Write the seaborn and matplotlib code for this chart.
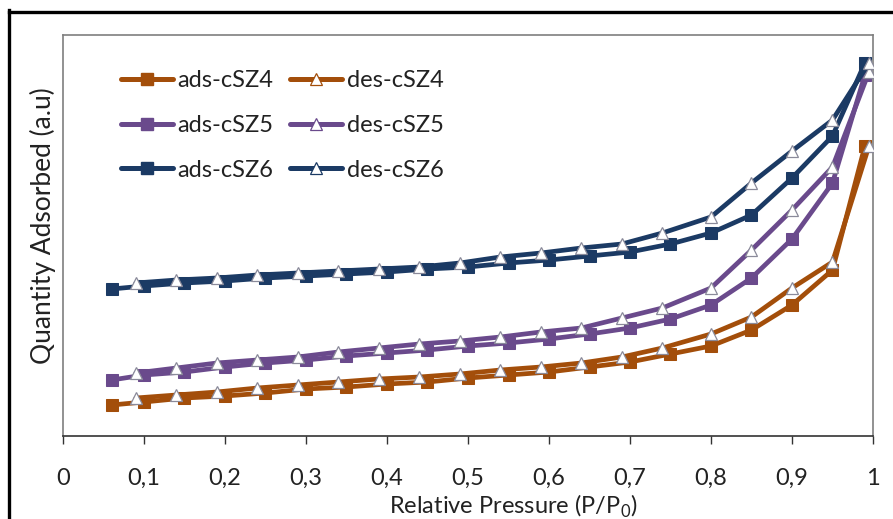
import matplotlib
matplotlib.use("Agg")
import matplotlib.pyplot as plt
import seaborn as sns
from matplotlib.lines import Line2D

sns.set_theme(style="white")
plt.rcParams['font.family'] = ['Lato', 'DejaVu Sans']

# ---------------- data ----------------
ads_x = [0.06, 0.1, 0.15, 0.2, 0.25, 0.3, 0.35, 0.4, 0.45, 0.5, 0.55, 0.6,
         0.65, 0.7, 0.75, 0.8, 0.85, 0.9, 0.95, 0.99]
des_x = [0.09, 0.14, 0.19, 0.24, 0.29, 0.34, 0.39, 0.44, 0.49, 0.54, 0.59,
         0.64, 0.69, 0.74, 0.8, 0.85, 0.9, 0.95, 0.995]

ads_cSZ4 = [31, 34, 38, 40, 43, 47, 49, 52, 54, 58, 61, 64, 69, 74, 82, 90, 106, 131, 166, 290]
des_cSZ4 = [38, 41, 44, 48, 51, 54, 57, 59, 62, 66, 69, 73, 79, 88, 102, 119, 148, 174, 290]

ads_cSZ5 = [56, 61, 64, 69, 73, 76, 80, 83, 86, 90, 93, 97, 102, 108, 117, 131, 158, 197, 253, 361]
des_cSZ5 = [63, 68, 73, 76, 79, 84, 88, 92, 95, 99, 104, 108, 118, 128, 148, 186, 226, 269, 364]

ads_cSZ6 = [147, 150, 153, 155, 158, 160, 162, 164, 167, 169, 173, 176, 180, 184, 192, 203, 221, 258, 300, 373]
des_cSZ6 = [153, 156, 158, 161, 163, 165, 167, 169, 173, 179, 183, 188, 192, 203, 219, 253, 285, 316, 373]

x_ticks = [0, 0.1, 0.2, 0.3, 0.4, 0.5, 0.6, 0.7, 0.8, 0.9, 1.0]
x_tick_labels = ["0", "0,1", "0,2", "0,3", "0,4", "0,5", "0,6", "0,7", "0,8", "0,9", "1"]

colors = {"cSZ4": "#A34E0A", "cSZ5": "#6A4A8C", "cSZ6": "#1B3A64"}

# ---------------- figure ----------------
W, H = 893, 519
fig = plt.figure(figsize=(W / 100, H / 100), dpi=100)
fig.patch.set_facecolor("white")
ax = fig.add_axes([63 / W, (H - 436) / H, (873 - 63) / W, (436 - 35) / H])

series = [
    ("cSZ4", ads_cSZ4, des_cSZ4),
    ("cSZ5", ads_cSZ5, des_cSZ5),
    ("cSZ6", ads_cSZ6, des_cSZ6),
]

ads_handles, des_handles = [], []
for name, ads, des in series:
    c = colors[name]
    sns.lineplot(x=ads_x, y=ads, ax=ax, color=c, linewidth=3.4, marker="s",
                 markersize=8.5, markeredgecolor=c, markerfacecolor=c, zorder=3)
    sns.lineplot(x=des_x, y=des, ax=ax, color=c, linewidth=3.4, marker="^",
                 markersize=8.5, markeredgecolor="#8a8a9a", markeredgewidth=0.9,
                 markerfacecolor="white", zorder=4)
    ads_handles.append(Line2D([], [], color=c, lw=3.6, marker="s", markersize=8,
                              markerfacecolor=c, markeredgecolor=c))
    des_handles.append(Line2D([], [], color=c, lw=3.6, marker="^", markersize=8,
                              markerfacecolor="white", markeredgecolor=c,
                              markeredgewidth=0.9))

labels = ["ads-cSZ4", "ads-cSZ5", "ads-cSZ6", "des-cSZ4", "des-cSZ5", "des-cSZ6"]
leg = ax.legend(ads_handles + des_handles, labels, ncol=2, loc="upper left",
                bbox_to_anchor=(0.045, 0.965), frameon=False, fontsize=17,
                handlelength=2.2, handletextpad=0.2, columnspacing=0.7,
                labelspacing=1.0, numpoints=1)
for t in leg.get_texts():
    t.set_color("#222222")

ax.set_xlim(0, 1)
ax.set_ylim(0, 401)
ax.set_xticks(x_ticks)
ax.set_xticklabels(x_tick_labels)
ax.set_yticks([])
ax.tick_params(axis="x", direction="out", length=6, width=1.0, color="#333333",
               labelsize=17, pad=17, labelcolor="#222222", bottom=True)

for side in ["left", "top", "right"]:
    ax.spines[side].set_color("#7f7f7f")
    ax.spines[side].set_linewidth(1.2)
ax.spines["bottom"].set_color("#333333")
ax.spines["bottom"].set_linewidth(1.2)

ax.set_xlabel("Relative Pressure (P/P$_\\mathregular{0}$)", fontsize=17,
              color="#222222")
ax.xaxis.set_label_coords(0.556, -0.142)
ax.set_ylabel("Quantity Adsorbed (a.u)", fontsize=19, color="#222222")
ax.yaxis.set_label_coords(-0.009, 0.524)

# outer black frame (partly cropped at right/bottom)
fig.add_artist(Line2D([8.5 / W, 8.5 / W], [0, 1 - 10 / H], transform=fig.transFigure,
                      color="black", lw=2.4, solid_capstyle="projecting"))
fig.add_artist(Line2D([8.5 / W, 1], [1 - 11.5 / H, 1 - 11.5 / H], transform=fig.transFigure,
                      color="black", lw=2.4, solid_capstyle="projecting"))

fig.savefig("out.png", dpi=100, facecolor="white")
